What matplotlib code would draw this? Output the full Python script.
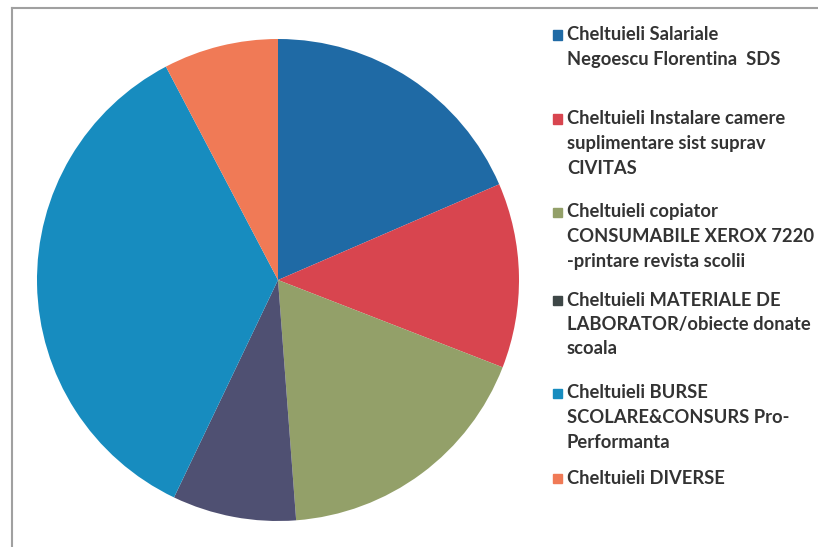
import matplotlib
matplotlib.use("Agg")
import matplotlib.pyplot as plt
from matplotlib.patches import Rectangle
from matplotlib.lines import Line2D

labels = [
    "Cheltuieli Salariale\nNegoescu Florentina  SDS",
    "Cheltuieli Instalare camere\nsuplimentare sist suprav\nCIVITAS",
    "Cheltuieli copiator\nCONSUMABILE XEROX 7220\n-printare revista scolii",
    "Cheltuieli MATERIALE DE\nLABORATOR/obiecte donate\nscoala",
    "Cheltuieli BURSE\nSCOLARE&CONSURS Pro-\nPerformanta",
    "Cheltuieli DIVERSE",
]
values = [18.5, 12.4, 17.9, 8.3, 35.2, 7.7]
colors = ["#1F6AA5", "#D8454F", "#93A069", "#4F5072", "#178CBF", "#F07A56"]
legend_colors = ["#1F6AA5", "#D8454F", "#93A069", "#3E4747", "#178CBF", "#F07A56"]
legend_y_px = [35, 119, 212, 300, 393, 478]

W, H = 818, 547
fig = plt.figure(figsize=(W / 100, H / 100), dpi=100)
fig.patch.set_facecolor("white")

# pie axes: circle centre (278,280) px, radius 241 px
r = 241
cx, cy = 278, 280
ax = fig.add_axes([(cx - r) / W, (H - cy - r) / H, 2 * r / W, 2 * r / H])
ax.pie(values, colors=colors, startangle=90, counterclock=False,
       wedgeprops=dict(linewidth=0))
ax.set_xlim(-1, 1)
ax.set_ylim(-1, 1)
ax.set_aspect("equal")
ax.axis("off")

# frame lines (left and top)
fig.add_artist(Line2D([12 / W, 12 / W], [0, 1 - 8 / H], color="#A0A0A0", lw=1.5,
                      transform=fig.transFigure))
fig.add_artist(Line2D([12 / W, 1], [1 - 8 / H, 1 - 8 / H], color="#A0A0A0", lw=1.5,
                      transform=fig.transFigure))

# legend
line_h = 24.5
for lab, col, ypx in zip(labels, legend_colors, legend_y_px):
    sq = 9
    fig.add_artist(Rectangle((553 / W, 1 - (ypx + sq / 2) / H), sq / W, sq / H,
                             color=col, transform=fig.transFigure))
    for i, line in enumerate(lab.split("\n")):
        fig.text(567 / W, 1 - (ypx + i * line_h) / H, line,
                 fontsize=13.2, fontfamily="Lato", fontweight="bold",
                 color="#333333", va="center", ha="left")

fig.savefig("out.png", dpi=100, facecolor="white")
